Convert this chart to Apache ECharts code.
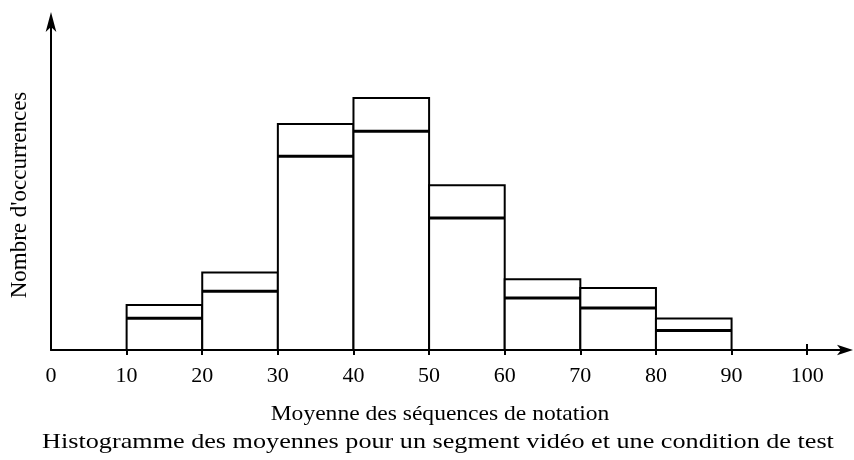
<!DOCTYPE html>
<html>
<head>
<meta charset="utf-8">
<script src="https://cdn.jsdelivr.net/npm/echarts@6/dist/echarts.min.js"></script>
<style>
  html, body { margin: 0; padding: 0; background: #fff; }
  #main { width: 854px; height: 460px; }
</style>
</head>
<body>
<div id="main"></div>
<script>
// classes de la moyenne (bornes) et hauteurs
var binStart = [10, 20, 30, 40, 50, 60, 70, 80];
var binEnd   = [20, 30, 40, 50, 60, 70, 80, 90];
var outerCount = [13.3, 22.9, 66.8, 74.5, 48.7, 20.9, 18.3, 9.3];
var innerCount = [9.4, 17.4, 57.3, 64.7, 39.0, 15.4, 12.4, 5.8];
var tickLabels = [0, 10, 20, 30, 40, 50, 60, 70, 80, 90, 100];
var tickMarks = [10, 20, 30, 40, 50, 60, 70, 80, 90, 100];
var lastTick = [100];

var xTitle = 'Moyenne des séquences de notation';
var caption = 'Histogramme des moyennes pour un segment vidéo et une condition de test';
var yTitle = "Nombre d'occurrences";

var font = '"Liberation Serif", "Times New Roman", serif';

var data = [];
for (var i = 0; i < binStart.length; i++) {
	data.push([binStart[i], binEnd[i], outerCount[i], innerCount[i]]);
}

function renderBin(params, api){
	var p0 = api.coord([api.value(0), 0]);
	var p1 = api.coord([api.value(1), api.value(2)]);
	var yi = api.coord([api.value(0), api.value(3)])[1];
	return {
		type: 'group',
		children: [
			{
				type: 'rect',
				shape: { x: p0[0], y: p1[1], width: p1[0] - p0[0], height: p0[1] - p1[1] },
				style: { fill: '#fff', stroke: '#000', lineWidth: 2 }
			},
			{
				type: 'line',
				shape: { x1: p0[0], y1: yi, x2: p1[0], y2: yi },
				style: { stroke: '#000', lineWidth: 3 }
			}
		]
	};
}

var myChart = echarts.init(document.getElementById('main'));
var option = {
	animation: false,
	backgroundColor: '#fff',
	grid: { left: 51, right: 9, top: 22, bottom: 110 },
	xAxis: [
		{
			type: 'value',
			position: 'bottom',
			min: 0,
			max: 105,
			interval: 10,
			splitLine: { show: false },
			axisLine: {
				lineStyle: { color: '#000', width: 2 },
				symbol: ['none', 'arrow'],
				symbolSize: [8, 16],
				symbolOffset: [0, 8]
			},
			axisTick: {
				customValues: tickMarks,
				length: 5,
				lineStyle: { color: '#000', width: 2 }
			},
			axisLabel: {
				customValues: tickLabels,
				color: '#000',
				fontFamily: font,
				fontSize: 22,
				margin: 15
			}
		},
		{
			// petit trait au-dessus de l'axe pour la graduation 100
			type: 'value',
			position: 'bottom',
			offset: 0,
			min: 0,
			max: 105,
			interval: 10,
			splitLine: { show: false },
			axisLine: { show: false },
			axisLabel: { show: false },
			axisTick: {
				customValues: lastTick,
				inside: true,
				length: 6,
				lineStyle: { color: '#000', width: 2 }
			}
		}
	],
	yAxis: {
		type: 'value',
		min: 0,
		max: 97,
		splitLine: { show: false },
		axisTick: { show: false },
		axisLabel: { show: false },
		axisLine: {
			show: true,
			lineStyle: { color: '#000', width: 2 },
			symbol: ['none', 'arrow'],
			symbolSize: [8, 20],
			symbolOffset: [0, 10]
		}
	},
	graphic: [
		{
			type: 'text', x: 440, y: 414, scaleX: 1.07,
			style: { text: xTitle, font: '22px ' + font, fill: '#000', textAlign: 'center', textVerticalAlign: 'middle' }
		},
		{
			type: 'text', x: 438, y: 442, scaleX: 1.19,
			style: { text: caption, font: '22px ' + font, fill: '#000', textAlign: 'center', textVerticalAlign: 'middle' }
		},
		{
			type: 'text', x: 20, y: 195, rotation: Math.PI / 2,
			style: { text: yTitle, font: '23px ' + font, fill: '#000', textAlign: 'center', textVerticalAlign: 'middle' }
		}
	],
	series: [
		{
			type: 'custom',
			renderItem: renderBin,
			encode: { x: [0, 1], y: [2, 3] },
			data: data
		}
	]
};
myChart.setOption(option);
</script>
</body>
</html>
